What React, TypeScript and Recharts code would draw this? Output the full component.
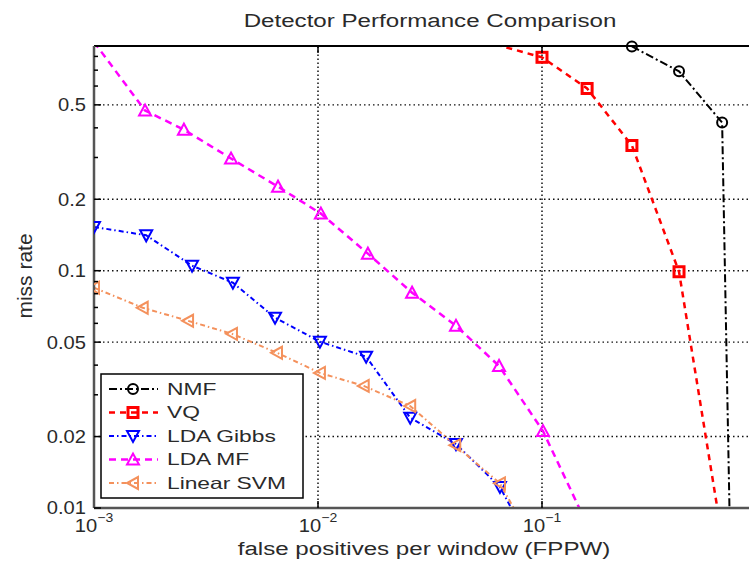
import React from 'react';
import { LineChart, Line, XAxis, YAxis, ReferenceLine, Legend } from 'recharts';

// False positives per window (x) and miss rate (y) for each detector
const nmfFppw = [0.252, 0.409, 0.637, 0.69];
const nmfMiss = [0.881, 0.692, 0.421, 0.008];

const vqFppw = [0.05, 0.1, 0.159, 0.252, 0.409, 0.63];
const vqMiss = [0.95, 0.793, 0.586, 0.337, 0.099, 0.008];

const gibbsFppw = [0.001, 0.00171, 0.00274, 0.00417, 0.00643, 0.0102, 0.0164, 0.0258, 0.0413, 0.0649, 0.075];
const gibbsMiss = [0.153, 0.141, 0.105, 0.089, 0.0634, 0.0502, 0.0434, 0.024, 0.0186, 0.01226, 0.0095];

const mfFppw = [0.001, 0.00169, 0.00252, 0.00409, 0.00663, 0.0103, 0.0167, 0.0263, 0.0413, 0.0643, 0.101, 0.164];
const mfMiss = [0.92, 0.473, 0.393, 0.297, 0.226, 0.174, 0.118, 0.0808, 0.0586, 0.0397, 0.0211, 0.008];

const svmFppw = [0.001, 0.00165, 0.00263, 0.00413, 0.00656, 0.0102, 0.016, 0.0258, 0.041, 0.0649, 0.078];
const svmMiss = [0.0848, 0.0698, 0.0615, 0.0542, 0.0451, 0.0371, 0.0327, 0.0269, 0.0184, 0.0127, 0.0093];

const xTicks = [0.001, 0.01, 0.1];
const xGrid = [0.01, 0.1];
const yMajor = [0.01, 0.02, 0.05, 0.1, 0.2, 0.5];
const yMinor = [0.03, 0.04, 0.06, 0.07, 0.08, 0.09, 0.3, 0.4, 0.6, 0.7, 0.8];
const yGrid = [0.02, 0.05, 0.1, 0.2, 0.5];

const X_DOMAIN: [number, number] = [0.001, 1];
const Y_DOMAIN: [number, number] = [0.01, 0.885];

const FONT = '"Liberation Sans", Arial, Helvetica, sans-serif';
const TEXT = '#2a2a2a';

type Pt = { x: number; y: number };
const toPoints = (xs: number[], ys: number[]): Pt[] => xs.map((x, i) => ({ x, y: ys[i] }));
const inRange = (pts: Pt[]) => pts.filter((p) => p.y >= Y_DOMAIN[0] && p.y <= Y_DOMAIN[1]);

type Shape = 'circle' | 'square' | 'down' | 'up' | 'left';

const series = [
  { name: 'NMF', data: toPoints(nmfFppw, nmfMiss), color: '#000000', dash: '8 3 2 3', width: 2, shape: 'circle' as Shape },
  { name: 'VQ', data: toPoints(vqFppw, vqMiss), color: '#ff0000', dash: '6 5', width: 2.5, shape: 'square' as Shape },
  { name: 'LDA Gibbs', data: toPoints(gibbsFppw, gibbsMiss), color: '#0000ff', dash: '5 3 1.5 3', width: 2, shape: 'down' as Shape },
  { name: 'LDA MF', data: toPoints(mfFppw, mfMiss), color: '#ff00ff', dash: '7 5', width: 2.5, shape: 'up' as Shape },
  { name: 'Linear SVM', data: toPoints(svmFppw, svmMiss), color: '#f4915c', dash: '5 3 1.5 3', width: 2, shape: 'left' as Shape },
];

function Marker({ shape, color, cx, cy }: { shape: Shape; color: string; cx: number; cy: number }) {
  const sw = 2;
  switch (shape) {
    case 'circle':
      return <circle cx={cx} cy={cy} r={5} fill="none" stroke={color} strokeWidth={sw} />;
    case 'square':
      return <rect x={cx - 5} y={cy - 5} width={10} height={10} fill="none" stroke={color} strokeWidth={3} />;
    case 'down':
      return <polygon points={`${cx - 6},${cy - 5} ${cx + 6},${cy - 5} ${cx},${cy + 6}`} fill="none" stroke={color} strokeWidth={sw} />;
    case 'up':
      return <polygon points={`${cx - 6},${cy + 5} ${cx + 6},${cy + 5} ${cx},${cy - 6}`} fill="none" stroke={color} strokeWidth={sw} />;
    default:
      return <polygon points={`${cx + 5},${cy - 6} ${cx + 5},${cy + 6} ${cx - 6},${cy}`} fill="none" stroke={color} strokeWidth={sw} />;
  }
}

const expLabel = (v: number) => String(Math.round(Math.log10(v))).replace('-', '\u2212');

function XTick(props: any) {
  const { x, y, payload } = props;
  const v = payload.value as number;
  const inner = xGrid.includes(v);
  return (
    <g>
      {inner && <line x1={x} y1={y} x2={x} y2={y - 7} stroke="#000" strokeWidth={1.5} />}
      <text transform={`translate(${x},${y + 24}) scale(1.12,1)`} textAnchor="middle" fontFamily={FONT} fontSize={18} fill={TEXT}>
        <tspan>10</tspan>
        <tspan dy={-10} fontSize={12.5}>{expLabel(v)}</tspan>
      </text>
    </g>
  );
}

function TopTick(props: any) {
  const { x, y } = props;
  return <line x1={x} y1={y} x2={x} y2={y + 7} stroke="#000" strokeWidth={1.5} />;
}

function YTick(props: any) {
  const { x, y, payload } = props;
  const v = payload.value as number;
  const major = yMajor.includes(v);
  return (
    <g>
      <line x1={x} y1={y} x2={x + (major ? 7 : 4)} y2={y} stroke="#000" strokeWidth={1.5} />
      {major && (
        <text transform={`translate(${x - 8},${y}) scale(1.12,1)`} dy="0.36em" textAnchor="end" fontFamily={FONT} fontSize={18} fill={TEXT}>
          {String(v)}
        </text>
      )}
    </g>
  );
}

function LegendBox() {
  const rowH = 23.5;
  return (
    <svg width={204} height={126} style={{ display: 'block' }}>
      <rect x={1} y={1} width={202} height={124} fill="#fff" stroke="#000" strokeWidth={1.5} />
      {series.map((s, i) => {
        const cy = 16 + i * rowH;
        return (
          <g key={s.name}>
            <line x1={9} y1={cy} x2={58} y2={cy} stroke={s.color} strokeWidth={s.width} strokeDasharray={s.dash} />
            <Marker shape={s.shape} color={s.color} cx={33} cy={cy} />
            <text transform={`translate(67,${cy}) scale(1.38,1)`} dy="0.36em" fontFamily={FONT} fontSize={16.5} fill={TEXT}>
              {s.name}
            </text>
          </g>
        );
      })}
    </svg>
  );
}

const hText = (size: number, sx: number): React.CSSProperties => ({
  position: 'absolute',
  whiteSpace: 'nowrap',
  fontFamily: FONT,
  fontSize: size,
  lineHeight: 1,
  color: TEXT,
  transform: `translate(-50%, -50%) scale(${sx}, 1)`,
});

export default function App() {
  return (
    <div style={{ position: 'fixed', left: 0, top: 0, width: 749, height: 561, overflow: 'hidden', background: '#fff' }}>
      <div style={{ position: 'absolute', left: 0, top: 0 }}>
        <LineChart width={780} height={561} margin={{ top: 45, right: 14, bottom: 23, left: 34 }}>
          <XAxis
            xAxisId="b"
            type="number"
            dataKey="x"
            scale="log"
            domain={X_DOMAIN}
            ticks={xTicks}
            height={30}
            tickSize={0}
            tickMargin={0}
            tick={<XTick />}
            axisLine={{ stroke: '#555', strokeWidth: 2.5 }}
            tickLine={false}
            interval={0}
            allowDataOverflow
          />
          <XAxis
            xAxisId="t"
            orientation="top"
            type="number"
            dataKey="x"
            scale="log"
            domain={X_DOMAIN}
            ticks={xGrid}
            height={1}
            tickSize={0}
            tickMargin={0}
            tick={<TopTick />}
            axisLine={{ stroke: '#000', strokeWidth: 1.8 }}
            tickLine={false}
            interval={0}
            allowDataOverflow
          />
          <YAxis
            yAxisId="clip"
            type="number"
            dataKey="y"
            scale="log"
            domain={Y_DOMAIN}
            ticks={[...yMajor, ...yMinor]}
            width={60}
            tickSize={0}
            tickMargin={0}
            tick={<YTick />}
            axisLine={{ stroke: '#555', strokeWidth: 2.5 }}
            tickLine={false}
            interval={0}
            allowDataOverflow
          />
          <YAxis yAxisId="free" type="number" dataKey="y" scale="log" domain={Y_DOMAIN} hide />
          {xGrid.map((v) => (
            <ReferenceLine key={`gx${v}`} xAxisId="b" yAxisId="clip" x={v} stroke="#000" strokeWidth={1.4} strokeDasharray="1.5 2.5" />
          ))}
          {yGrid.map((v) => (
            <ReferenceLine key={`gy${v}`} xAxisId="b" yAxisId="clip" y={v} stroke="#111" strokeWidth={1.4} strokeDasharray="1.5 3" />
          ))}
          {series.map((s) => (
            <Line
              key={`l-${s.name}`}
              xAxisId="b"
              yAxisId="clip"
              data={s.data}
              dataKey="y"
              type="linear"
              stroke={s.color}
              strokeWidth={s.width}
              strokeDasharray={s.dash}
              dot={false}
              activeDot={false}
              isAnimationActive={false}
              legendType="none"
            />
          ))}
          {series.map((s) => (
            <Line
              key={`m-${s.name}`}
              xAxisId="b"
              yAxisId="free"
              data={inRange(s.data)}
              dataKey="y"
              stroke="none"
              dot={(p: any) => <Marker key={`${s.name}-${p.index}`} shape={s.shape} color={s.color} cx={p.cx} cy={p.cy} />}
              activeDot={false}
              isAnimationActive={false}
              legendType="none"
            />
          ))}
          <Legend
            layout="vertical"
            align="center"
            verticalAlign="middle"
            content={() => <LegendBox />}
            wrapperStyle={{ position: 'absolute', left: 100, top: 373, width: 204, height: 126 }}
          />
        </LineChart>
      </div>
      <div style={{ ...hText(18, 1.34), left: 430, top: 21 }}>Detector Performance Comparison</div>
      <div style={{ ...hText(18, 1.34), left: 424, top: 549 }}>false positives per window (FPPW)</div>
      <div style={{ ...hText(21, 1), left: 24, top: 276, transform: 'translate(-50%, -50%) rotate(-90deg)' }}>miss rate</div>
    </div>
  );
}
